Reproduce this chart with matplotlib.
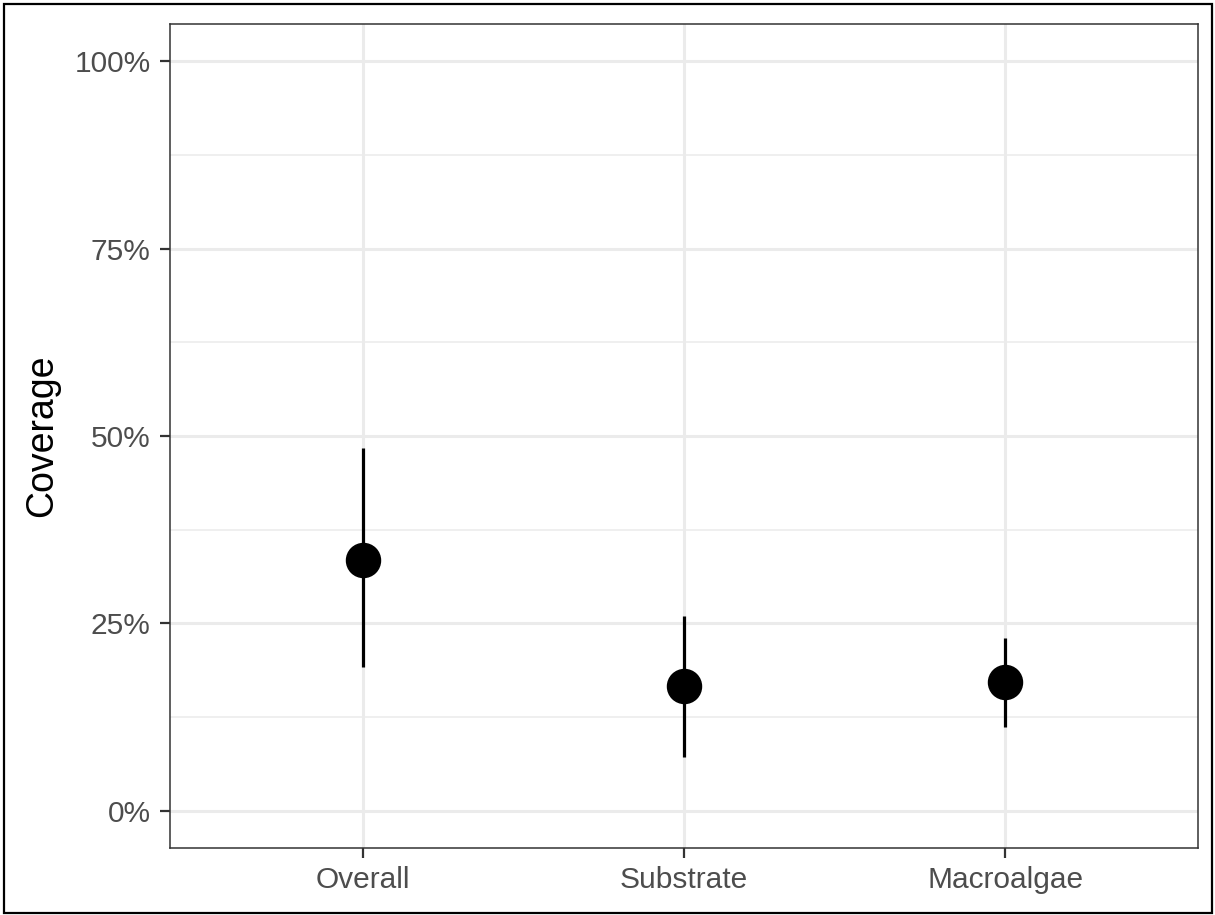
import numpy as np
import matplotlib
matplotlib.use("Agg")
import matplotlib.pyplot as plt
from matplotlib.patches import Rectangle
from matplotlib.ticker import FixedLocator, PercentFormatter

# ===== DATA =====
groups = ["Overall", "Substrate", "Macroalgae"]
coverage = [0.335, 0.166, 0.171]
lower = [0.191, 0.071, 0.111]
upper = [0.484, 0.260, 0.231]
y_ticks = [0.0, 0.25, 0.50, 0.75, 1.00]

plt.rcParams['font.family'] = ['Liberation Sans', 'DejaVu Sans']

W, H = 1215, 915
fig = plt.figure(figsize=(W / 100, H / 100), dpi=100)
ax = fig.add_axes([170 / W, (H - 848) / H, (1198 - 170) / W, (848 - 24) / H])

x = np.arange(1, len(groups) + 1)
cov = np.array(coverage)
err = [cov - np.array(lower), np.array(upper) - cov]

ax.errorbar(x, cov, yerr=err, fmt='o', color='black', ecolor='black',
            elinewidth=2.3, capsize=0, markersize=24.5, zorder=3)

ax.set_xlim(0.4, 3.6)
ax.set_ylim(-0.05, 1.05)
ax.set_xticks(x)
ax.set_xticklabels(groups)
ax.set_yticks(y_ticks)
ax.yaxis.set_major_formatter(PercentFormatter(1.0, decimals=0))
ax.yaxis.set_minor_locator(FixedLocator([0.125, 0.375, 0.625, 0.875]))

# theme_bw look
ax.set_axisbelow(True)
ax.grid(which='major', color='#EBEBEB', linewidth=2.2)
ax.grid(which='minor', axis='y', color='#EBEBEB', linewidth=1.1)
for s in ax.spines.values():
    s.set_color('#333333')
    s.set_linewidth(1.1)
ax.tick_params(which='major', length=7, width=1.6, color='#333333',
               labelsize=21.5, labelcolor='#4D4D4D')
ax.tick_params(axis='y', pad=7)
ax.tick_params(axis='x', pad=6)
ax.tick_params(which='minor', length=0)

ax.set_ylabel("Coverage", fontsize=27, color='black', labelpad=10)

# outer frame around the whole picture
fig.patches.append(Rectangle((4 / W, 2 / H), (1212 - 4) / W, (911 - 2) / H,
                             transform=fig.transFigure, fill=False,
                             edgecolor='black', linewidth=1.6))

fig.savefig("out.png", dpi=100)
